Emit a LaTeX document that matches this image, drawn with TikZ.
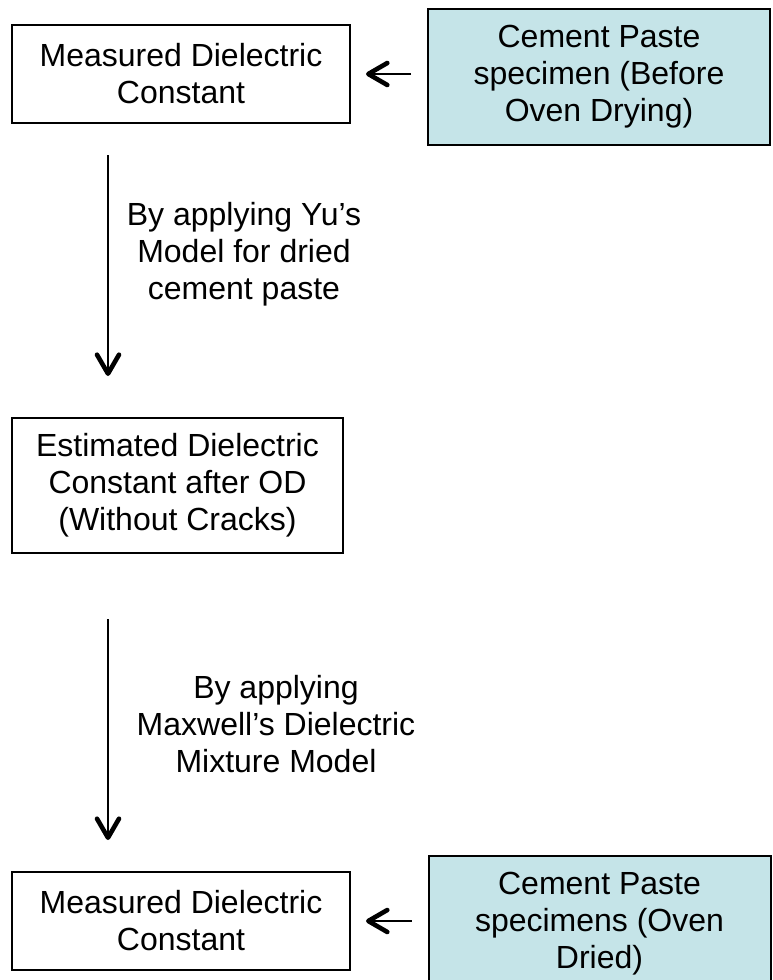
\documentclass[tikz,border=0pt]{standalone}
\usepackage{fontspec}
\setmainfont{Liberation Sans}
\usepackage{xcolor}
\usepackage{tikz}
\usetikzlibrary{arrows.meta,positioning,calc}

\definecolor{pastecyan}{RGB}{197,228,232}

\begin{document}
\begin{tikzpicture}[x=0.5pt,y=-0.5pt,
	txt/.style={font=\fontsize{16}{18.5}\selectfont,align=center},
	whitebox/.style={txt,draw=black,line width=1pt,inner sep=0pt},
	cyanbox/.style={whitebox,fill=pastecyan},
	arr/.style={line width=0.9pt,-{Straight Barb[length=9.5pt,width=11pt,line width=2.3pt,round]}}]
	\useasboundingbox (0,0) rectangle (772,980);
	% boxes
	\node[whitebox,minimum width=169pt,minimum height=49pt] (meas1) at (181,74) {Measured Dielectric\\Constant};
	\node[cyanbox,minimum width=171pt,minimum height=68pt] (paste1) at (599,77) {Cement Paste\\specimen (Before\\Oven Drying)};
	\node[whitebox,minimum width=165.5pt,minimum height=67.5pt] (est) at (177.5,485.5) {Estimated Dielectric\\Constant after OD\\(Without Cracks)};
	\node[whitebox,minimum width=169pt,minimum height=49pt] (meas2) at (181,921) {Measured Dielectric\\Constant};
	\node[cyanbox,minimum width=171pt,minimum height=68pt] (paste2) at (599.5,924) {Cement Paste\\specimens (Oven\\Dried)};
	% labels
	\node[txt] (yu) at (244,254) {By applying Yu's\\Model for dried\\cement paste};
	\node[txt] (maxwell) at (276,724) {By applying\\Maxwell's Dielectric\\Mixture Model};
	% arrows
	\coordinate (col) at (108,0);
	\draw[arr,shorten <=8pt,shorten >=7.5pt] (paste1.west |- meas1.east) -- (meas1.east);
	\draw[arr,shorten <=15.5pt,shorten >=20.5pt] (meas1.south -| col) -- (est.north -| col);
	\draw[arr,shorten <=32.5pt,shorten >=15.5pt] (est.south -| col) -- (meas2.north -| col);
	\draw[arr,shorten <=8pt,shorten >=7.5pt] (paste2.west |- meas2.east) -- (meas2.east);
\end{tikzpicture}
\end{document}
